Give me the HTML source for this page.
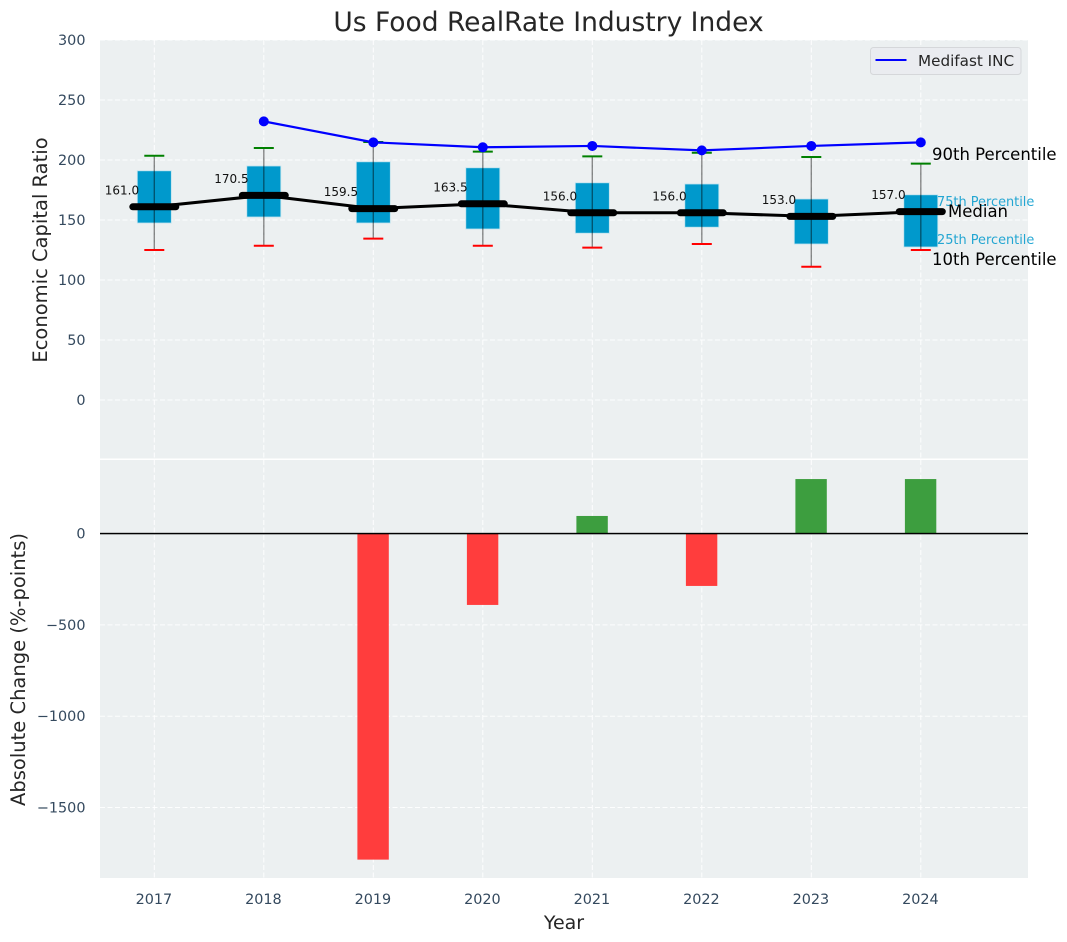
<!DOCTYPE html>
<html lang="en">
<head>
<meta charset="utf-8">
<title>Us Food RealRate Industry Index</title>
<style>
html,body{margin:0;padding:0;background:#fff;width:1067px;height:942px;overflow:hidden}
svg{display:block}
text{font-family:"DejaVu Sans","Liberation Sans",sans-serif}
</style>
</head>
<body>
<svg id="chart" xmlns="http://www.w3.org/2000/svg" width="1067" height="942" viewBox="0 0 1067 942"></svg>
<script>
var years = [2017, 2018, 2019, 2020, 2021, 2022, 2023, 2024];
var p10 = [125, 128.5, 134.5, 128.5, 127, 130, 111, 125];
var p25 = [147.5, 152.5, 147.5, 142.5, 139, 144, 130, 127.5];
var medians = [161, 170.5, 159.5, 163.5, 156, 156, 153, 157];
var p75 = [191, 195, 198.5, 193.5, 181, 180, 167.5, 171];
var p90 = [203.5, 210, 215, 207, 203, 206, 202.5, 197];
var medifastYears = [2018, 2019, 2020, 2021, 2022, 2023, 2024];
var medifast = [232.2, 214.7, 210.6, 211.7, 208, 211.7, 214.7];
var changeYears = [2019, 2020, 2021, 2022, 2023, 2024];
var changes = [-1785, -391, 96, -287, 298, 298];
var topTicks = [0, 50, 100, 150, 200, 250, 300];
var bottomTicks = [0, -500, -1000, -1500];

var NS = 'http://www.w3.org/2000/svg';
var svg = document.getElementById('chart');
var PL = 100, PR = 1028, T1 = 40, B1 = 458.5, T2 = 460, B2 = 878;

function X(v) { return 154.3 + (v - 2017) * 109.5; }
function Y1(v) { return 400 - v * 1.2; }
function Y2(v) { return 533.5 - v * 0.1827; }

function mk(tag, attrs, txt) {
  var e = document.createElementNS(NS, tag);
  for (var k in attrs) e.setAttribute(k, attrs[k]);
  if (txt !== undefined) e.textContent = txt;
  svg.appendChild(e);
  return e;
}
var el;

el = mk('rect', {x: PL, y: T1, width: PR - PL, height: B1 - T1, fill: '#ecf0f1'});


el = mk('rect', {x: PL, y: T2, width: PR - PL, height: B2 - T2, fill: '#ecf0f1'});



var gridStyle = {stroke: '#ffffff', 'stroke-width': 1, 'stroke-opacity': 0.9, 'stroke-dasharray': '5 2.5', fill: 'none'};
function gridLine(x1, y1, x2, y2) {
  var a = {x1: x1, y1: y1, x2: x2, y2: y2};
  for (var k in gridStyle) a[k] = gridStyle[k];
  return mk('line', a);
}

topTicks.forEach(function (t) {
  var g = gridLine(PL, Y1(t), PR, Y1(t));
  
  
  var l = mk('text', {x: 85.5, y: Y1(t) + 5, 'text-anchor': 'end', 'font-size': 14.4, fill: '#34495e'}, String(t));
  
  
});
bottomTicks.forEach(function (t) {
  var g = gridLine(PL, Y2(t), PR, Y2(t));
  
  
  var l = mk('text', {x: 85.5, y: Y2(t) + 5, 'text-anchor': 'end', 'font-size': 14.4, fill: '#34495e'}, String(t).replace('-', '\u2212'));
  
  
});
years.forEach(function (y) {
  var g1 = gridLine(X(y), T1, X(y), B1);
  
  
  var g2 = gridLine(X(y), T2, X(y), B2);
  
  
  var l = mk('text', {x: X(y) - 0.4, y: 904, 'text-anchor': 'middle', 'font-size': 14.4, fill: '#34495e'}, String(y));
  
  
});

/* percentile boxes */
years.forEach(function (y, i) {
  var b = mk('rect', {x: X(y) - 17, y: Y1(p75[i]), width: 34, height: Y1(p25[i]) - Y1(p75[i]), fill: '#0099cc', stroke: '#bfe3ee', 'stroke-width': 0.8});
  
  
});
/* whiskers */
years.forEach(function (y, i) {
  var w = mk('line', {x1: X(y), y1: Y1(p90[i]), x2: X(y), y2: Y1(p10[i]), stroke: '#000', 'stroke-opacity': 0.45, 'stroke-width': 1.4});
  
  
  var hi = mk('line', {x1: X(y) - 10, y1: Y1(p90[i]), x2: X(y) + 10, y2: Y1(p90[i]), stroke: '#008000', 'stroke-width': 2});
  
  
  var lo = mk('line', {x1: X(y) - 10, y1: Y1(p10[i]), x2: X(y) + 10, y2: Y1(p10[i]), stroke: '#ff0000', 'stroke-width': 2});
  
  
});

/* median trend */
el = mk('polyline', {points: years.map(function (y, i) { return X(y) + ',' + Y1(medians[i]); }).join(' '), fill: 'none', stroke: '#000', 'stroke-width': 3});


years.forEach(function (y, i) {
  var m = mk('line', {x1: X(y) - 21.5, y1: Y1(medians[i]), x2: X(y) + 21.5, y2: Y1(medians[i]), stroke: '#000', 'stroke-width': 7, 'stroke-linecap': 'round'});
  
  
  var t = mk('text', {x: X(y) - 15.2, y: Y1(medians[i]) - 12.5, 'text-anchor': 'end', 'font-size': 12, fill: '#111'}, medians[i].toFixed(1));
  
  
});

/* Medifast series */
el = mk('polyline', {points: medifastYears.map(function (y, i) { return X(y) + ',' + Y1(medifast[i]); }).join(' '), fill: 'none', stroke: '#0000ff', 'stroke-width': 2.2});


medifastYears.forEach(function (y, i) {
  var c = mk('circle', {cx: X(y), cy: Y1(medifast[i]), r: 5, fill: '#0000ff'});
  
  
});

/* change bars */
changeYears.forEach(function (y, i) {
  var v = changes[i];
  var top = Math.min(Y2(v), Y2(0));
  var b = mk('rect', {x: X(y) - 15.9, y: top, width: 31.4, height: Math.abs(Y2(v) - Y2(0)), fill: v < 0 ? '#ff3d3d' : '#3d9e3f'});
  
  
});
el = mk('line', {x1: PL, y1: Y2(0) + 0.3, x2: PR, y2: Y2(0) + 0.3, stroke: '#000', 'stroke-opacity': 0.2, 'stroke-width': 2.4});


el = mk('line', {x1: PL, y1: Y2(0), x2: PR, y2: Y2(0), stroke: '#000', 'stroke-width': 1.2});



/* right-hand percentile annotations */
el = mk('text', {x: 932, y: 160, 'font-size': 16.5, fill: '#000'}, '90th Percentile');


el = mk('text', {x: 937, y: 206, 'font-size': 12.9, fill: '#0099cc', 'fill-opacity': 0.85}, '75th Percentile');


el = mk('text', {x: 948, y: 217, 'font-size': 16.5, fill: '#000'}, 'Median');


el = mk('text', {x: 937, y: 244, 'font-size': 12.9, fill: '#0099cc', 'fill-opacity': 0.85}, '25th Percentile');


el = mk('text', {x: 932, y: 265, 'font-size': 16.5, fill: '#000'}, '10th Percentile');



/* legend */
el = mk('rect', {x: 870.5, y: 47.5, width: 150.5, height: 27, rx: 3, fill: '#eaebf0', 'fill-opacity': 0.9, stroke: '#d5d7da', 'stroke-width': 1});


el = mk('line', {x1: 875.5, y1: 60, x2: 906.5, y2: 60, stroke: '#0000ff', 'stroke-width': 2});


el = mk('text', {x: 918, y: 66, 'font-size': 15.2, fill: '#262626'}, 'Medifast INC');



/* titles */
el = mk('text', {x: 548.5, y: 31, 'text-anchor': 'middle', 'font-size': 26.5, fill: '#262626'}, 'Us Food RealRate Industry Index');


el = mk('text', {x: 564, y: 929, 'text-anchor': 'middle', 'font-size': 19, fill: '#262626'}, 'Year');


el = mk('text', {transform: 'translate(47,250) rotate(-90)', 'text-anchor': 'middle', 'font-size': 19.5, fill: '#262626'}, 'Economic Capital Ratio');


el = mk('text', {transform: 'translate(25,669.5) rotate(-90)', 'text-anchor': 'middle', 'font-size': 19.5, fill: '#262626'}, 'Absolute Change (%-points)');


</script>
</body>
</html>
